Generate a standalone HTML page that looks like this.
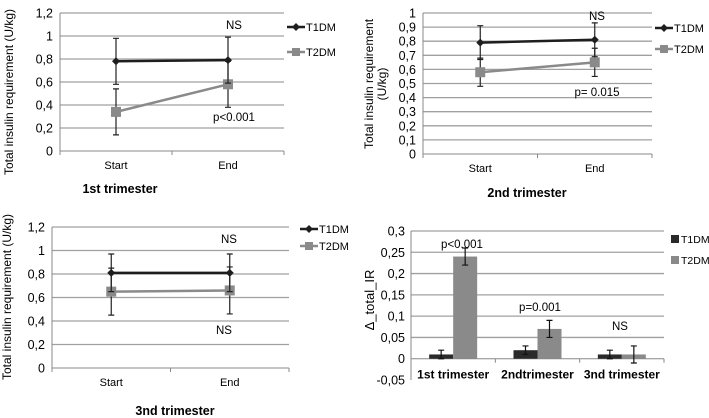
<!DOCTYPE html>
<html><head><meta charset="utf-8"><style>
body{margin:0;background:#fff}
svg{display:block;font-family:"Liberation Sans",sans-serif}
text{fill:#000}
</style></head><body>
<svg id="s" width="709" height="418" viewBox="0 0 709 418"></svg>
<script>
const lineCats=["Start","End"];
const p1T1=[0.78,0.79], p1T1Err=[0.20,0.20];
const p1T2=[0.34,0.58], p1T2Err=[0.20,0.20];
const p2T1=[0.79,0.81], p2T1Err=[0.12,0.12];
const p2T2=[0.58,0.65], p2T2Err=[0.10,0.10];
const p3T1=[0.81,0.81], p3T1Err=[0.16,0.16];
const p3T2=[0.65,0.66], p3T2Err=[0.20,0.20];
const ticks12=["0","0,2","0,4","0,6","0,8","1","1,2"];
const tickVals12=[0,0.2,0.4,0.6,0.8,1,1.2];
const ticks10=["0","0,1","0,2","0,3","0,4","0,5","0,6","0,7","0,8","0,9","1"];
const tickVals10=[0,0.1,0.2,0.3,0.4,0.5,0.6,0.7,0.8,0.9,1];
const barCats=["1st trimester","2ndtrimester","3nd trimester"];
const barT1=[0.01,0.02,0.01], barT1Err=[0.01,0.01,0.01];
const barT2=[0.24,0.07,0.01], barT2Err=[0.02,0.02,0.02];
const barTicks=["-0,05","0","0,05","0,1","0,15","0,2","0,25","0,3"];
const barTickVals=[-0.05,0,0.05,0.1,0.15,0.2,0.25,0.3];

const svg=document.getElementById('s');
const NS='http://www.w3.org/2000/svg';
function el(tag,attrs,parent,txt){const e=document.createElementNS(NS,tag);for(const k in attrs)e.setAttribute(k,attrs[k]);if(txt!==undefined)e.textContent=txt;(parent||svg).appendChild(e);return e;}

function linePanel(o){
  const g=el('g',{},svg);
  const y=v=>o.y0+(o.y1-o.y0)*(v-o.vmin)/(o.vmax-o.vmin);
  const xs=[o.x0+(o.x1-o.x0)*0.25,o.x0+(o.x1-o.x0)*0.75];
  o.tv.forEach((v,i)=>{
    if(v>0){const l=el('line',{x1:o.x0,x2:o.x1,y1:y(v),y2:y(v),stroke:'#a0a0a0','stroke-width':1.3},g);}
    const t=el('text',{x:o.x0-7,y:y(v)+4.5,'font-size':12.5,'text-anchor':'end'},g,o.tl[i]);
  });
  el('line',{x1:o.x0,x2:o.x0,y1:y(o.vmin),y2:y(o.vmax),stroke:'#888'},g);
  el('line',{x1:o.x0,x2:o.x1,y1:y(0),y2:y(0),stroke:'#888'},g);
  [o.x0,(o.x0+o.x1)/2,o.x1].forEach(x=>el('line',{x1:x,x2:x,y1:y(0),y2:y(0)+4,stroke:'#888'},g));
  lineCats.forEach((c,i)=>{const t=el('text',{x:xs[i],y:y(0)+18,'font-size':11,'text-anchor':'middle'},g,c);});
  const series=[[o.t2,o.t2e,'#8a8a8a','square','t2dm'],[o.t1,o.t1e,'#1e1e1e','diamond','t1dm']];
  series.forEach(([d,e,col,mk,nm])=>{
    const pl=el('polyline',{points:d.map((v,i)=>xs[i]+','+y(v)).join(' '),fill:'none',stroke:col,'stroke-width':2.5},g);
    
    d.forEach((v,i)=>{
      const eb=el('path',{d:`M${xs[i]},${y(v-e[i])}V${y(v+e[i])}M${xs[i]-3},${y(v-e[i])}h6M${xs[i]-3},${y(v+e[i])}h6`,stroke:'#222','stroke-width':1.2,fill:'none'},g);
      
      let m;
      if(mk==='square')m=el('rect',{x:xs[i]-5,y:y(v)-5,width:10,height:10,fill:col},g);
      else m=el('path',{d:`M${xs[i]},${y(v)-4}l4,4l-4,4l-4,-4z`,fill:col},g);
      
    });
  });
  [['T1DM','#1e1e1e','diamond',o.ly1],['T2DM','#8a8a8a','square',o.ly2]].forEach(([n,c,mk,ly])=>{
    const lg=el('g',{},g);
    el('line',{x1:o.lx,x2:o.lx+18,y1:ly,y2:ly,stroke:c,'stroke-width':2.5},lg);
    if(mk==='square')el('rect',{x:o.lx+5,y:ly-4,width:8,height:8,fill:c},lg);else el('path',{d:`M${o.lx+9},${ly-4}l4,4l-4,4l-4,-4z`,fill:c},lg);
    el('text',{x:o.lx+19,y:ly+4,'font-size':11},lg,n);
  });
  o.ann.forEach(a=>{const t=el('text',{x:a[0],y:a[1],'font-size':11.5,'text-anchor':'middle'},g,a[2]);});
  const tt=el('text',{x:o.tx,y:o.ty,'font-size':12.5,'font-weight':'bold','text-anchor':'middle'},g,o.title);
  o.ytitle.forEach((s,i)=>{const t=el('text',{transform:`translate(${o.ytx+i*13},${o.tyc}) rotate(-90)`,'font-size':12,'text-anchor':'middle'},g,s);});
}
linePanel({name:'chart-1st-trimester',x0:60,x1:284,y0:151,y1:13,vmin:0,vmax:1.2,tv:tickVals12,tl:ticks12,t1:p1T1,t1e:p1T1Err,t2:p1T2,t2e:p1T2Err,lx:287,ly1:27,ly2:52,ann:[[234,29,'NS'],[234,121,'p<0.001']],title:'1st trimester',tx:120,ty:193,ytitle:['Total insulin requirement  (U/kg)'],ytx:13,tyc:92});
linePanel({name:'chart-2nd-trimester',x0:423,x1:652,y0:154,y1:13,vmin:0,vmax:1,tv:tickVals10,tl:ticks10,t1:p2T1,t1e:p2T1Err,t2:p2T2,t2e:p2T2Err,lx:655,ly1:28,ly2:49,ann:[[597,20,'NS'],[597,96,'p= 0.015']],title:'2nd trimester',tx:527,ty:197,ytitle:['Total insulin requirement','(U/kg)'],ytx:373,tyc:84});
linePanel({name:'chart-3nd-trimester',x0:52,x1:289,y0:368,y1:227,vmin:0,vmax:1.2,tv:tickVals12,tl:ticks12,t1:p3T1,t1e:p3T1Err,t2:p3T2,t2e:p3T2Err,lx:300,ly1:229,ly2:246,ann:[[229,243,'NS'],[224,334,'NS']],title:'3nd trimester',tx:175,ty:415,ytitle:['Total insulin requirement (U/kg)'],ytx:11,tyc:297});

(function(){
  const g=el('g',{},svg);
  const x0=411,x1=664,y0=380,y1=231,vmin=-0.05,vmax=0.3;
  const y=v=>y0+(y1-y0)*(v-vmin)/(vmax-vmin);
  const cw=(x1-x0)/barCats.length;
  barTickVals.forEach((v,i)=>{
    if(v!==vmin&&v!==0){const l=el('line',{x1:x0,x2:x1,y1:y(v),y2:y(v),stroke:'#a0a0a0','stroke-width':1.3},g);}
    const t=el('text',{x:x0-6,y:y(v)+4.5,'font-size':12.5,'text-anchor':'end'},g,barTicks[i]);
  });
  el('line',{x1:x0,x2:x0,y1:y0,y2:y1,stroke:'#888'},g);
  el('line',{x1:x0,x2:x1,y1:y(0),y2:y(0),stroke:'#888'},g);
  for(let i=0;i<=barCats.length;i++)el('line',{x1:x0+i*cw,x2:x0+i*cw,y1:y(0),y2:y(0)+4,stroke:'#888'},g);
  const bw=24;
  barCats.forEach((c,i)=>{
    const cx=x0+cw*(i+0.5);
    [[barT1,barT1Err,'#2a2a2a',-bw,'t1dm'],[barT2,barT2Err,'#8a8a8a',0,'t2dm']].forEach(([d,e,col,off,nm])=>{
      const v=d[i];
      const r=el('rect',{x:cx+off,y:Math.min(y(v),y(0)),width:bw,height:Math.abs(y(0)-y(v)),fill:col},g);
      
      const bx=cx+off+bw/2;
      const eb=el('path',{d:`M${bx},${y(v-e[i])}V${y(v+e[i])}M${bx-3},${y(v-e[i])}h6M${bx-3},${y(v+e[i])}h6`,stroke:'#111','stroke-width':1.2,fill:'none'},g);
      
    });
    const t=el('text',{x:cx,y:y(0)+20,'font-size':12,'font-weight':'bold','text-anchor':'middle'},g,c);
  });
  [[462,248,'p<0.001'],[540,311,'p=0.001'],[620,330,'NS']].forEach(a=>{const t=el('text',{x:a[0],y:a[1],'font-size':11.5,'text-anchor':'middle'},g,a[2]);});
  [['T1DM','#2a2a2a',239],['T2DM','#8a8a8a',260]].forEach(([n,c,ly])=>{
    const lg=el('g',{},g);
    el('rect',{x:671,y:ly-4,width:8,height:8,fill:c},lg);
    el('text',{x:681,y:ly+4,'font-size':10.5},lg,n);
  });
  const t=el('text',{transform:'translate(374,300) rotate(-90)','font-size':13,'text-anchor':'middle'},g,'Δ_total_IR');
})();
</script>
</body></html>
